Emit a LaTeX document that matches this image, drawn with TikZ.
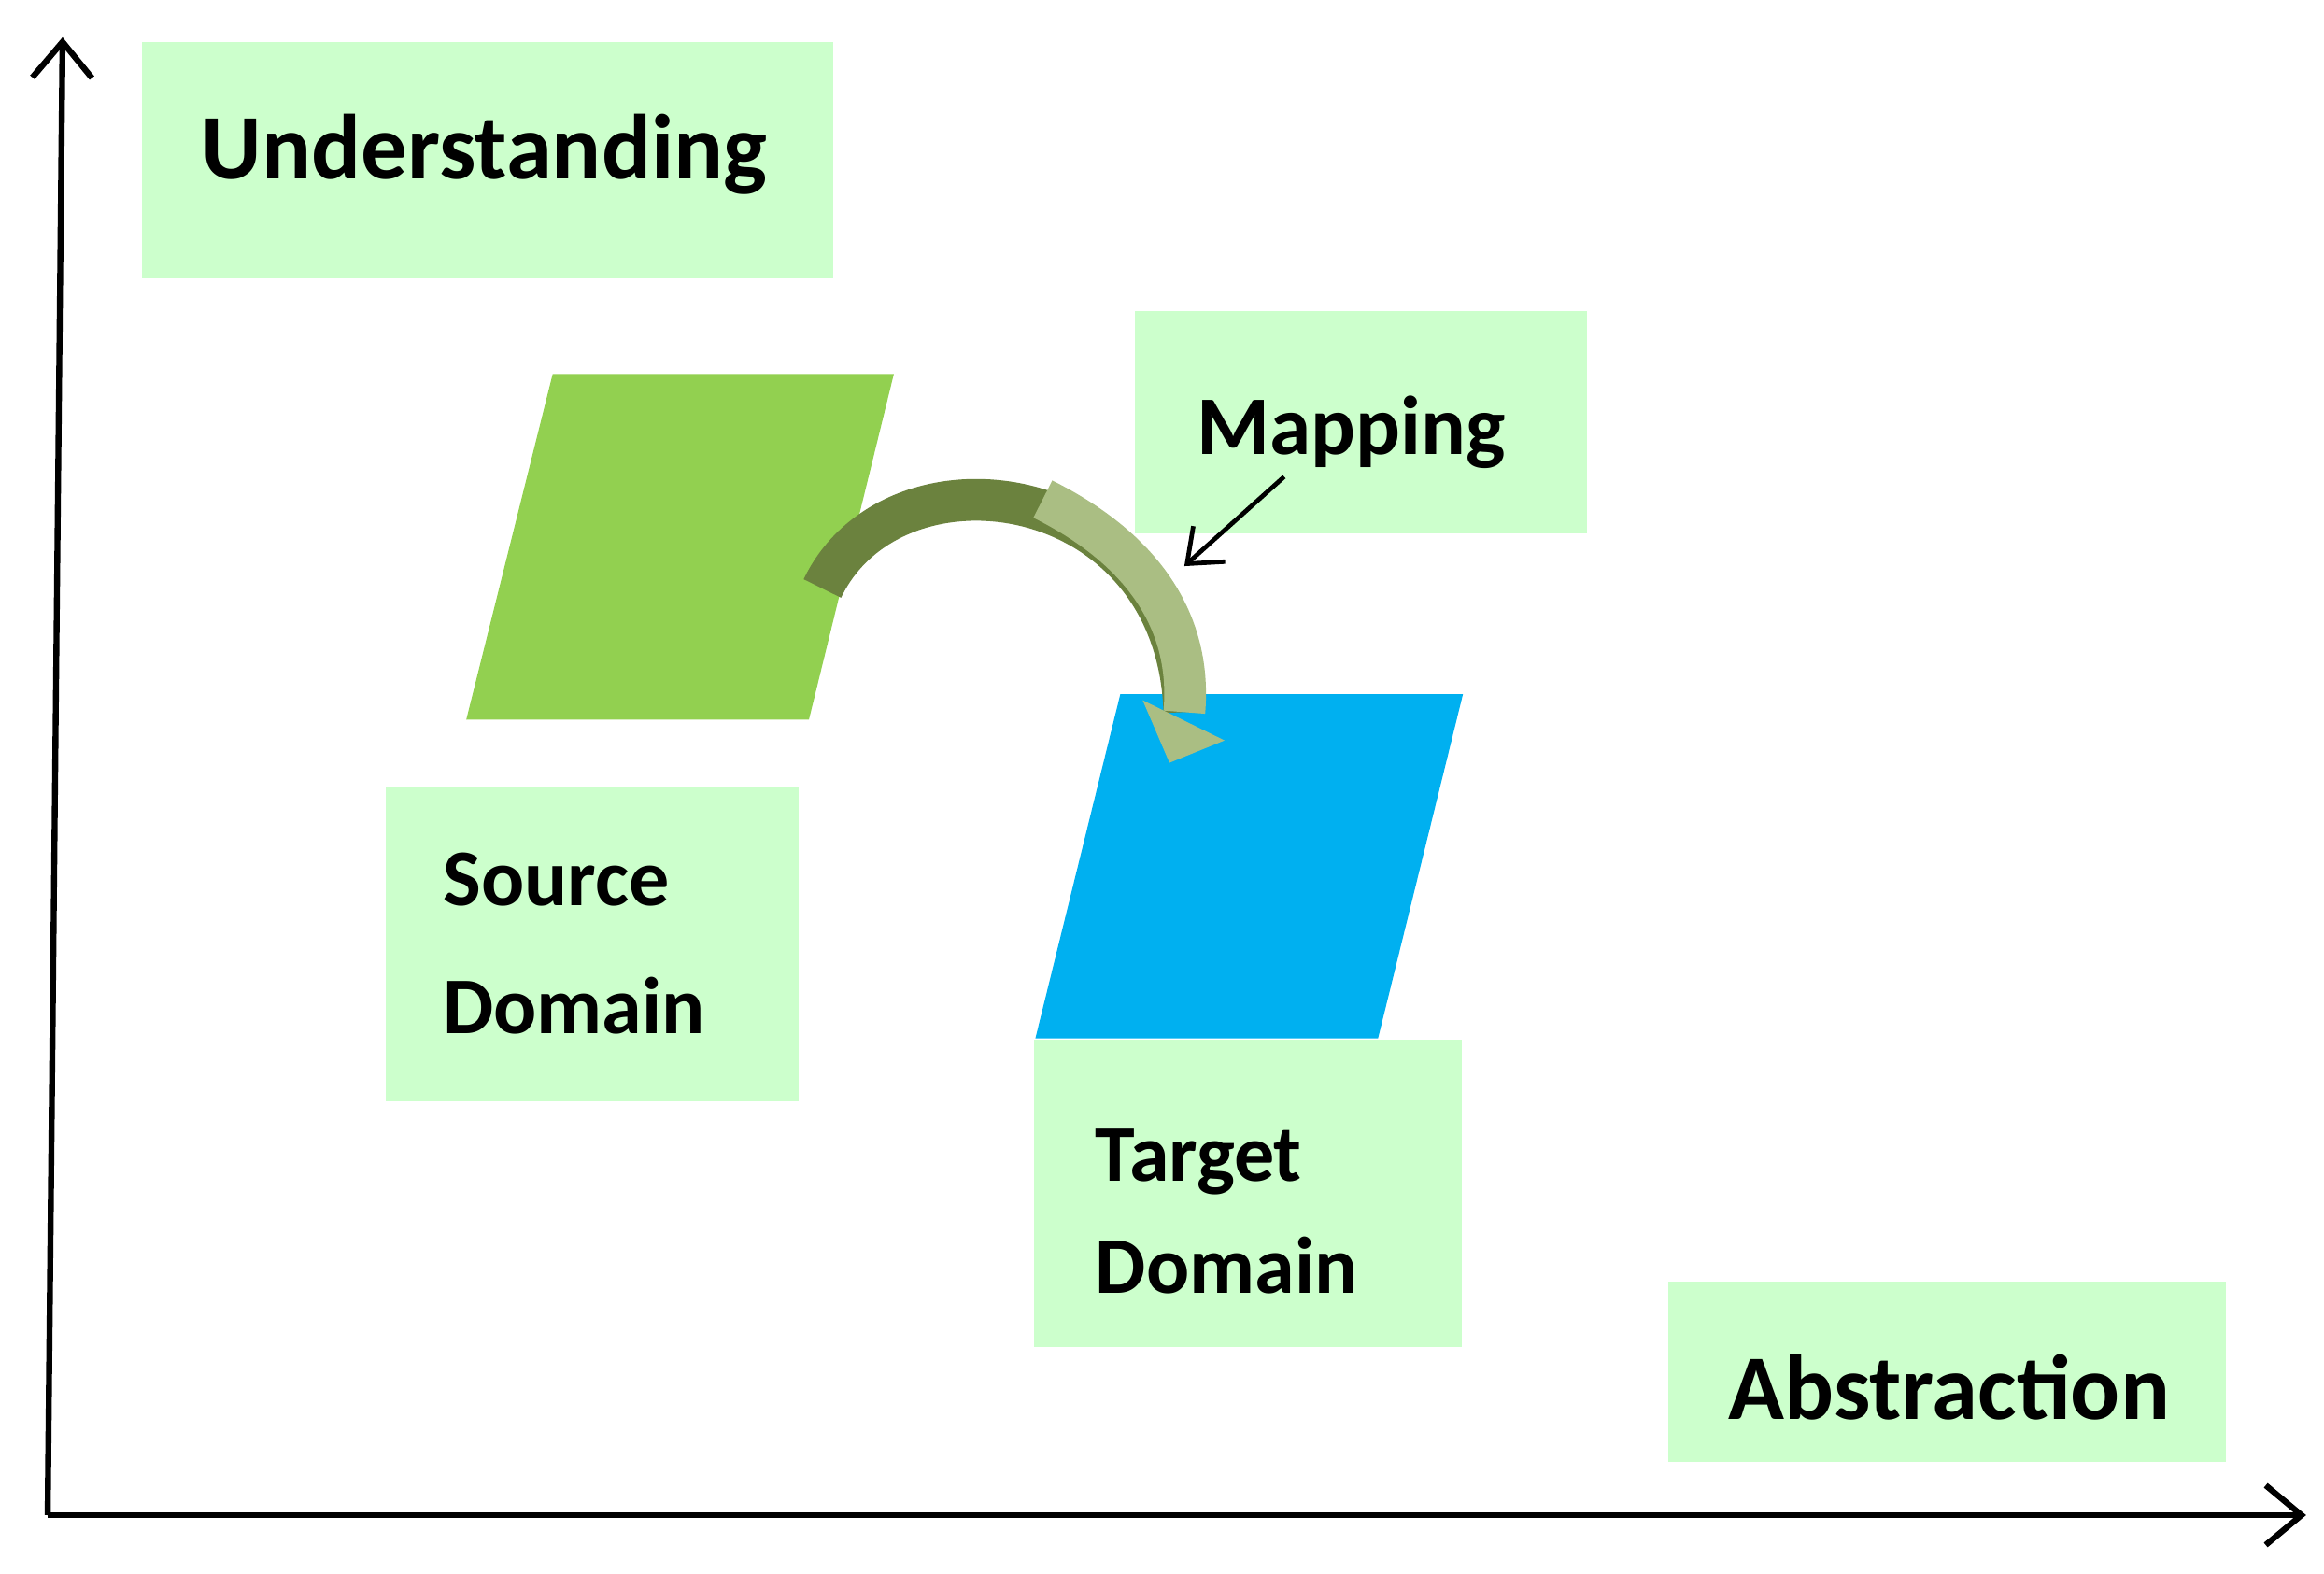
\documentclass[tikz,border=0pt]{standalone}
\usepackage{fontspec}
\setmainfont{Carlito}
\usetikzlibrary{arrows.meta}
\definecolor{boxg}{HTML}{CCFFCC}
\definecolor{srcg}{HTML}{92D050}
\definecolor{tgtb}{HTML}{00B0F0}
\definecolor{olive}{HTML}{86A34E}
\begin{document}
\begin{tikzpicture}[x=0.5pt,y=-0.5pt,
  box/.style={fill=boxg,draw=none},
  lbl/.style={anchor=base west,inner sep=0pt,font=\bfseries},
  axis/.style={line width=2pt,-{Straight Barb[length=12pt,width=20pt,line width=2pt]}}]
\useasboundingbox (0,0) rectangle (1560,1056);
\fill[box] (95,28) rectangle (559,187);
\fill[box] (762,209) rectangle (1065,358);
\fill[box] (259,528) rectangle (536,739);
\fill[box] (694,698) rectangle (981,904);
\fill[box] (1120,860) rectangle (1494,981);
\fill[srcg] (371,251) -- (600,251) -- (543,483) -- (313,483) -- cycle;
\fill[tgtb] (752,466) -- (982,466) -- (925,697) -- (695,697) -- cycle;
\coordinate (o) at (32,1017);
\coordinate (yt) at (42,25);
\coordinate (xt) at (1548,1017);
\draw[axis] (o) -- (yt);
\draw[axis] (o) -- (xt);
\node[lbl,font=\bfseries\fontsize{31}{31}\selectfont] (u) at (135,120) {Understanding};
\node[lbl,font=\bfseries\fontsize{28}{28}\selectfont] (m) at (803,305) {Mapping};
\node[lbl,font=\bfseries\fontsize{27}{27}\selectfont] (s1) at (297,608) {Source};
\node[lbl,font=\bfseries\fontsize{27}{27}\selectfont] (s2) at (297,694) {Domain};
\node[lbl,font=\bfseries\fontsize{27}{27}\selectfont] (t1) at (735,793) {Target};
\node[lbl,font=\bfseries\fontsize{27}{27}\selectfont] (t2) at (735,868) {Domain};
\node[lbl,font=\bfseries\fontsize{31}{31}\selectfont] (a) at (1160,953) {Abstraction};
\coordinate (cs) at (552,395);
\coordinate (ce) at (795,478);
\draw[olive!80!black, line width=14pt] (cs) .. controls (600,295) and (790,320) .. (ce);
\draw[olive!70!white, line width=14pt] (700,335) .. controls (770,370) and (800,420) .. (ce);
\fill[olive!70!white] (767,470) -- (822,497) -- (785,512) -- cycle;
\coordinate (mp1) at (862,320);
\coordinate (mp2) at (795,380);
\draw[line width=1.5pt,-{Straight Barb[length=10pt,width=16pt,line width=1.5pt]}] (mp1) -- (mp2);
\end{tikzpicture}
\end{document}
